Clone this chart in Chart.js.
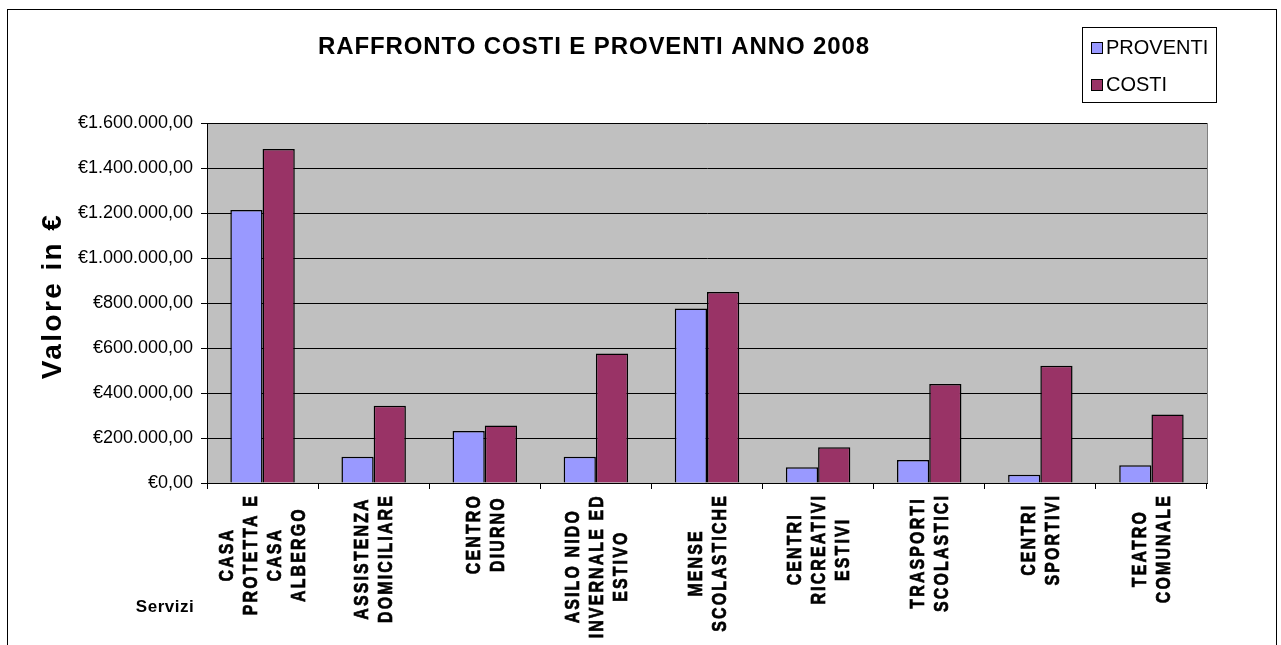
<!DOCTYPE html>
<html>
<head>
<meta charset="utf-8">
<script src="https://cdn.jsdelivr.net/npm/chart.js@4.4.1/dist/chart.umd.min.js"></script>
<style>
  body { margin: 0; background: #fff; }
  #wrap { width: 1281px; height: 645px; position: relative; }
</style>
</head>
<body>
<div id="wrap"><canvas id="myChart"></canvas></div>
<script>
// raffronto costi e proventi 2008

var categorie = [
    ['CASA', 'PROTETTA E', 'CASA', 'ALBERGO'],
    ['ASSISTENZA', 'DOMICILIARE'],
    ['CENTRO', 'DIURNO'],
    ['ASILO NIDO', 'INVERNALE ED', 'ESTIVO'],
    ['MENSE', 'SCOLASTICHE'],
    ['CENTRI', 'RICREATIVI', 'ESTIVI'],
    ['TRASPORTI', 'SCOLASTICI'],
    ['CENTRI', 'SPORTIVI'],
    ['TEATRO', 'COMUNALE']
];
var proventi = [1213000, 117000, 231000, 117000, 776000, 70000, 102000, 37000, 79000];
var costi = [1484000, 343000, 256000, 576000, 849000, 159000, 440000, 521000, 304000];
var titolo = 'RAFFRONTO COSTI E PROVENTI ANNO 2008';
var nomi_serie = ['PROVENTI', 'COSTI'];
var colori = ['#9999ff', '#993366'];

function euro(v) {
    var s = Math.round(v).toString().replace(/\B(?=(\d{3})+(?!\d))/g, '.');
    return '€' + s + ',00';
}

var extra = {
    id: 'extra',
    beforeDraw: function (chart) {
        var ctx = chart.ctx, a = chart.chartArea;
        ctx.save();
        ctx.fillStyle = '#ffffff';
        ctx.fillRect(0, 0, chart.width, chart.height);
        ctx.fillStyle = '#c0c0c0';
        ctx.fillRect(a.left, a.top, a.right - a.left, a.bottom - a.top);
        ctx.restore();
    },
    afterDraw: function (chart) {
        var ctx = chart.ctx, a = chart.chartArea;
        var xs = chart.scales.x;
        ctx.save();
        // bordo area grafico
        ctx.strokeStyle = '#808080';
        ctx.lineWidth = 1;
        ctx.beginPath();
        ctx.moveTo(a.right + 0.5, a.top);
        ctx.lineTo(a.right + 0.5, a.bottom);
        ctx.stroke();
        // bordo esterno
        ctx.strokeStyle = '#000';
        ctx.strokeRect(7.5, 9.5, 1269, 700);

        ctx.fillStyle = '#000';
        // titolo
        ctx.font = 'bold 24px Arial, "Liberation Sans"';
        ctx.letterSpacing = '0.9px';
        ctx.textAlign = 'center';
        ctx.textBaseline = 'alphabetic';
        ctx.fillText(titolo, 594, 54);

        // legenda
        ctx.letterSpacing = '0px';
        ctx.strokeRect(1082.5, 27.5, 134, 75);
        ctx.font = '20px Arial, "Liberation Sans"';
        ctx.textAlign = 'left';
        var ly = [42, 79];
        for (var k = 0; k < 2; k++) {
            ctx.fillStyle = colori[k];
            ctx.fillRect(1091, ly[k], 12, 12);
            ctx.strokeRect(1091.5, ly[k] + 0.5, 11, 11);
            ctx.fillStyle = '#000';
            ctx.fillText(nomi_serie[k], 1106, ly[k] + 12);
        }

        // titolo asse y
        ctx.save();
        ctx.font = 'bold 28px Arial, "Liberation Sans"';
        ctx.letterSpacing = '2.4px';
        ctx.translate(53, 296);
        ctx.rotate(-Math.PI / 2);
        ctx.textAlign = 'center';
        ctx.textBaseline = 'middle';
        ctx.fillText('Valore in €', 0, 0);
        ctx.restore();

        // titolo asse x
        ctx.font = 'bold 17px Arial, "Liberation Sans"';
        ctx.letterSpacing = '0.5px';
        ctx.textAlign = 'center';
        ctx.textBaseline = 'middle';
        ctx.fillText('Servizi', 165, 607);

        // etichette categorie (ruotate)
        var sx = 0.76;
        ctx.font = 'bold 21px Arial, "Liberation Sans"';
        ctx.letterSpacing = '2.8px';
        ctx.lineWidth = 0.7;
        ctx.strokeStyle = '#000';
        categorie.forEach(function (righe, i) {
            var x = xs.getPixelForValue(i);
            var w = Math.max.apply(null, righe.map(function (r) { return ctx.measureText(r).width; })) * sx;
            ctx.save();
            ctx.translate(x, 494 + w / 2);
            ctx.rotate(-Math.PI / 2);
            ctx.scale(sx, 1);
            ctx.textAlign = 'center';
            ctx.textBaseline = 'middle';
            righe.forEach(function (r, j) {
                var yy = (j - (righe.length - 1) / 2) * 24 + 1;
                ctx.fillText(r, 0, yy);
                ctx.strokeText(r, 0, yy);
            });
            ctx.restore();
        });
        ctx.restore();
    }
};

var ctx = document.getElementById('myChart').getContext('2d');
var myChart = new Chart(ctx, {
    type: 'bar',
    data: {
        labels: categorie.map(function (c) { return c.join(' '); }),
        datasets: [{
            label: nomi_serie[0],
            data: proventi,
            backgroundColor: colori[0],
            borderColor: '#000000',
            borderWidth: 1.5
        }, {
            label: nomi_serie[1],
            data: costi,
            backgroundColor: colori[1],
            borderColor: '#000000',
            borderWidth: 1.5
        }]
    },
    options: {
        responsive: true,
        maintainAspectRatio: false,
        animation: false,
        datasets: {
            bar: { barPercentage: 1.0, categoryPercentage: 0.58 }
        },
        layout: { padding: { left: 0, top: 123, right: 74, bottom: 0 } },
        plugins: {
            legend: { display: false },
            title: { display: false },
            tooltip: { enabled: false }
        },
        scales: {
            x: {
                grid: {
                    display: true,
                    drawOnChartArea: false,
                    drawTicks: true,
                    tickLength: 6,
                    color: '#000000',
                    offset: true
                },
                border: { display: true, color: '#000000', width: 1 },
                ticks: { display: false },
                afterFit: function (scale) { scale.height = 162; }
            },
            y: {
                min: 0,
                max: 1600000,
                beginAtZero: true,
                grid: {
                    color: '#000000',
                    lineWidth: 1,
                    drawTicks: true,
                    tickLength: 6
                },
                border: { display: true, color: '#000000', width: 1 },
                ticks: {
                    stepSize: 200000,
                    padding: 8,
                    color: '#000000',
                    font: { family: 'Arial, "Liberation Sans"', size: 18 },
                    callback: function (v) { return euro(v); }
                },
                afterFit: function (scale) { scale.width = 207; }
            }
        }
    },
    plugins: [extra]
});
</script>
</body>
</html>
